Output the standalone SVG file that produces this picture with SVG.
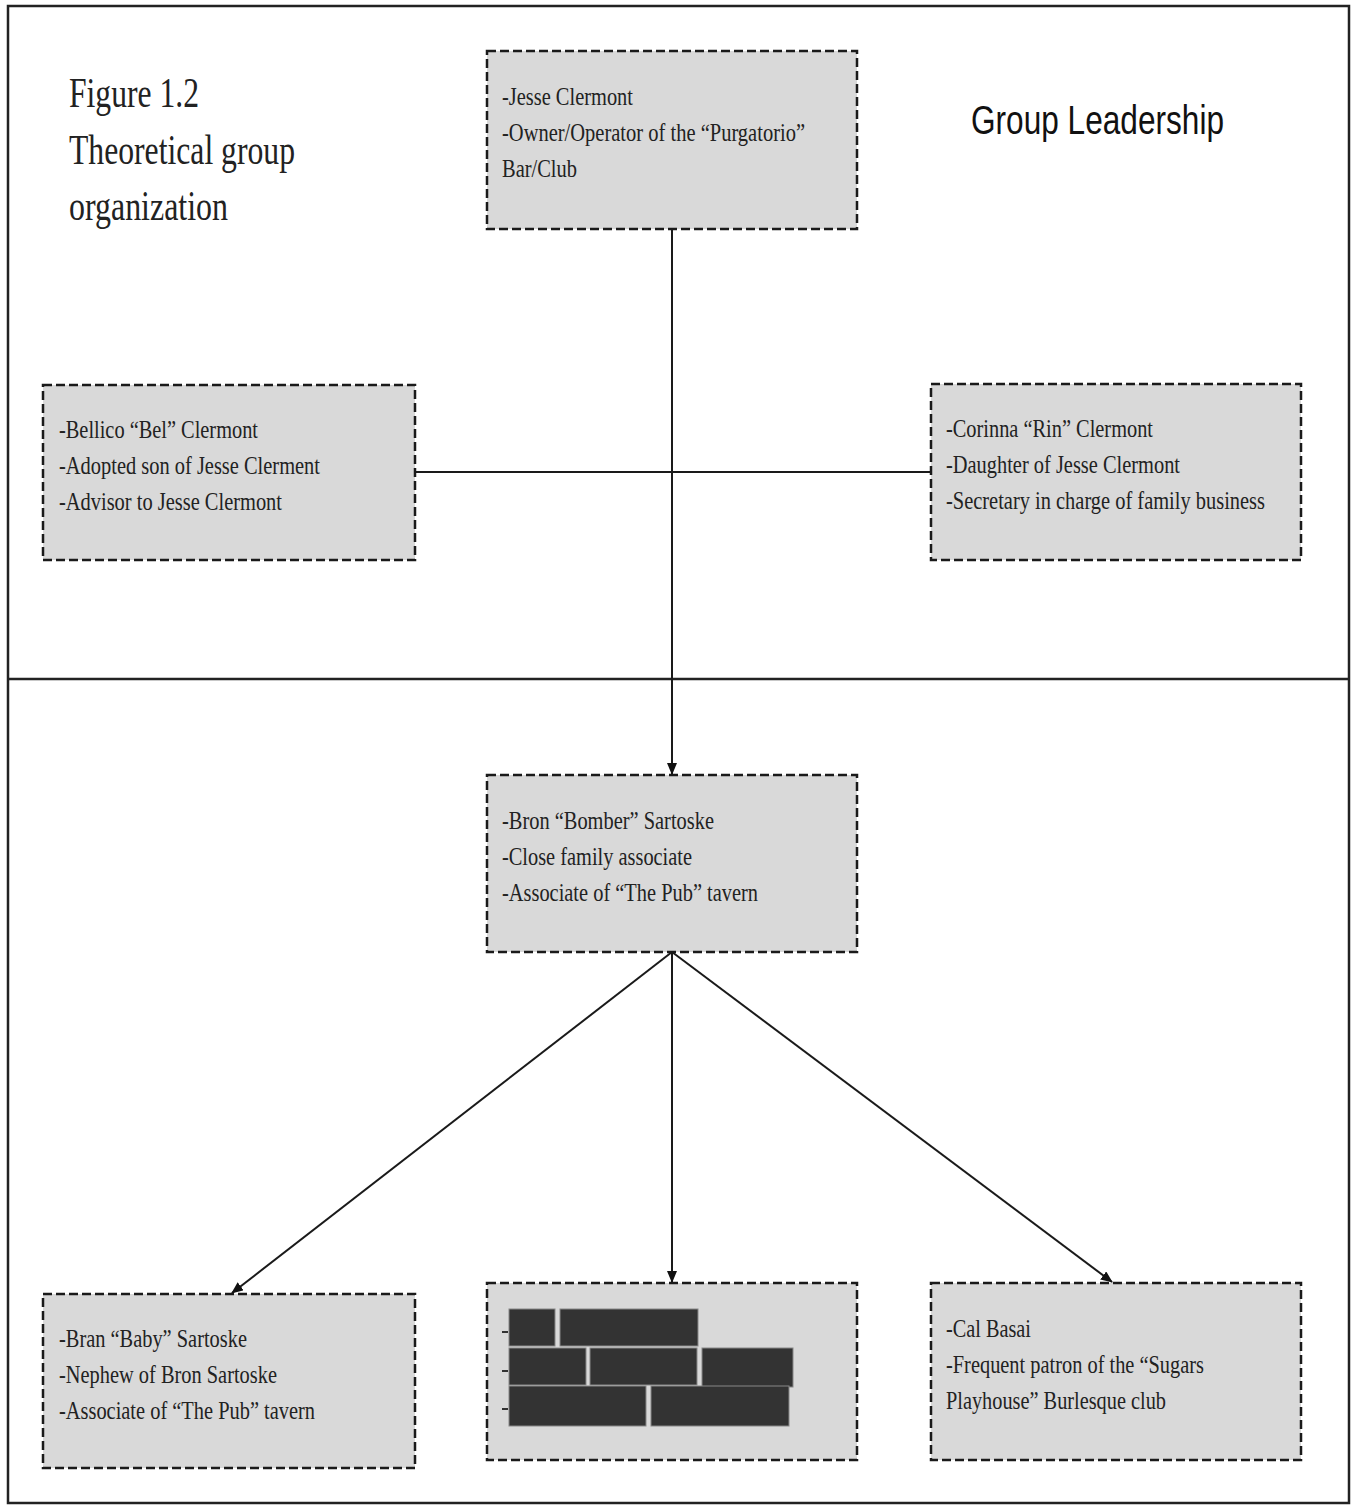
<svg xmlns="http://www.w3.org/2000/svg" width="1354" height="1505" viewBox="0 0 1354 1505">
<defs>
<style>
.box{fill:#d9d9d9;stroke:#1a1a1a;stroke-width:2.5;stroke-dasharray:9 4}
.t{font-family:"Liberation Serif","Times New Roman",serif;font-size:26px;fill:#222}
.title{font-family:"Liberation Serif","Times New Roman",serif;font-size:42px;fill:#222}
.head{font-family:"Liberation Sans",Arial,sans-serif;font-size:41px;fill:#111}
.conn{stroke:#1a1a1a;stroke-width:2;fill:none}
.red{fill:#333;stroke:#888;stroke-width:1}
</style>
<marker id="arr" markerWidth="12" markerHeight="12" refX="11" refY="5" orient="auto" markerUnits="userSpaceOnUse">
<path d="M0,0 L12,5 L0,10 Z" fill="#111"/>
</marker>
</defs>
<rect x="0" y="0" width="1354" height="1505" fill="#fff"/>
<rect x="8" y="6" width="1341" height="1497" fill="none" stroke="#222" stroke-width="2.5"/>
<line x1="8" y1="679" x2="1349" y2="679" stroke="#222" stroke-width="2.5"/>
<g id="title">
<text class="title" x="69" y="107" textLength="130" lengthAdjust="spacingAndGlyphs">Figure 1.2</text>
<text class="title" x="69" y="164" textLength="226" lengthAdjust="spacingAndGlyphs">Theoretical group</text>
<text class="title" x="69" y="220" textLength="159" lengthAdjust="spacingAndGlyphs">organization</text>
</g>
<g id="heading">
<text class="head" x="971" y="134" textLength="253" lengthAdjust="spacingAndGlyphs">Group Leadership</text>
</g>
<g id="connectors">
<line class="conn" x1="672" y1="229" x2="672" y2="774" marker-end="url(#arr)"/>
<line class="conn" x1="415" y1="472" x2="931" y2="472"/>
<line class="conn" x1="672" y1="952" x2="232" y2="1293" marker-end="url(#arr)"/>
<line class="conn" x1="672" y1="952" x2="672" y2="1282" marker-end="url(#arr)"/>
<line class="conn" x1="672" y1="952" x2="1112" y2="1282" marker-end="url(#arr)"/>
</g>
<g id="jesse">
<rect class="box" x="487" y="51" width="370" height="178"/>
<text class="t" x="502" y="105" textLength="131" lengthAdjust="spacingAndGlyphs">-Jesse Clermont</text>
<text class="t" x="502" y="141" textLength="303" lengthAdjust="spacingAndGlyphs">-Owner/Operator of the “Purgatorio”</text>
<text class="t" x="502" y="177" textLength="75" lengthAdjust="spacingAndGlyphs">Bar/Club</text>
</g>
<g id="bellico">
<rect class="box" x="43" y="385" width="372" height="175"/>
<text class="t" x="59" y="438" textLength="199" lengthAdjust="spacingAndGlyphs">-Bellico “Bel” Clermont</text>
<text class="t" x="59" y="474" textLength="261" lengthAdjust="spacingAndGlyphs">-Adopted son of Jesse Clerment</text>
<text class="t" x="59" y="510" textLength="223" lengthAdjust="spacingAndGlyphs">-Advisor to Jesse Clermont</text>
</g>
<g id="corinna">
<rect class="box" x="931" y="384" width="370" height="176"/>
<text class="t" x="946" y="437" textLength="207" lengthAdjust="spacingAndGlyphs">-Corinna “Rin” Clermont</text>
<text class="t" x="946" y="473" textLength="234" lengthAdjust="spacingAndGlyphs">-Daughter of Jesse Clermont</text>
<text class="t" x="946" y="509" textLength="319" lengthAdjust="spacingAndGlyphs">-Secretary in charge of family business</text>
</g>
<g id="bron">
<rect class="box" x="487" y="775" width="370" height="177"/>
<text class="t" x="502" y="829" textLength="212" lengthAdjust="spacingAndGlyphs">-Bron “Bomber” Sartoske</text>
<text class="t" x="502" y="865" textLength="190" lengthAdjust="spacingAndGlyphs">-Close family associate</text>
<text class="t" x="502" y="901" textLength="256" lengthAdjust="spacingAndGlyphs">-Associate of “The Pub” tavern</text>
</g>
<g id="bran">
<rect class="box" x="43" y="1294" width="372" height="174"/>
<text class="t" x="59" y="1347" textLength="188" lengthAdjust="spacingAndGlyphs">-Bran “Baby” Sartoske</text>
<text class="t" x="59" y="1383" textLength="218" lengthAdjust="spacingAndGlyphs">-Nephew of Bron Sartoske</text>
<text class="t" x="59" y="1419" textLength="256" lengthAdjust="spacingAndGlyphs">-Associate of “The Pub” tavern</text>
</g>
<g id="redacted">
<rect class="box" x="487" y="1283" width="370" height="177"/>
<line x1="502" y1="1332" x2="508" y2="1332" stroke="#333" stroke-width="2"/>
<line x1="502" y1="1371" x2="508" y2="1371" stroke="#333" stroke-width="2"/>
<line x1="502" y1="1409" x2="508" y2="1409" stroke="#333" stroke-width="2"/>
<rect class="red" x="509" y="1309" width="46" height="37"/>
<rect class="red" x="560" y="1309" width="138" height="37"/>
<rect class="red" x="509" y="1348" width="77" height="37"/>
<rect class="red" x="590" y="1348" width="107" height="37"/>
<rect class="red" x="702" y="1348" width="91" height="39"/>
<rect class="red" x="509" y="1386" width="137" height="40"/>
<rect class="red" x="651" y="1386" width="138" height="40"/>
</g>
<g id="cal">
<rect class="box" x="931" y="1283" width="370" height="177"/>
<text class="t" x="946" y="1337" textLength="85" lengthAdjust="spacingAndGlyphs">-Cal Basai</text>
<text class="t" x="946" y="1373" textLength="258" lengthAdjust="spacingAndGlyphs">-Frequent patron of the “Sugars</text>
<text class="t" x="946" y="1409" textLength="220" lengthAdjust="spacingAndGlyphs">Playhouse” Burlesque club</text>
</g>
</svg>
